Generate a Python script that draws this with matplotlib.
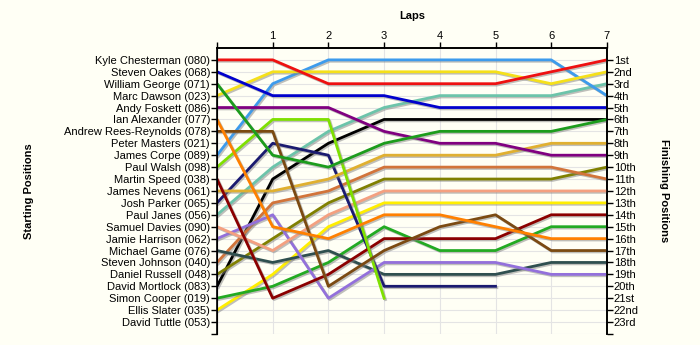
import numpy as np
import matplotlib.pyplot as plt
import matplotlib.patheffects as pe

plt.rcParams['font.family'] = ['Liberation Sans', 'DejaVu Sans']

drivers = ["Kyle Chesterman (080)", "Steven Oakes (068)", "William George (071)",
           "Marc Dawson (023)", "Andy Foskett (086)", "Ian Alexander (077)",
           "Andrew Rees-Reynolds (078)", "Peter Masters (021)", "James Corpe (089)",
           "Paul Walsh (098)", "Martin Speed (038)", "James Nevens (061)",
           "Josh Parker (065)", "Paul Janes (056)", "Samuel Davies (090)",
           "Jamie Harrison (062)", "Michael Game (076)", "Steven Johnson (040)",
           "Daniel Russell (048)", "David Mortlock (083)", "Simon Cooper (019)",
           "Ellis Slater (035)", "David Tuttle (053)"]

finish_labels = ["1st", "2nd", "3rd", "4th", "5th", "6th", "7th", "8th", "9th", "10th",
                 "11th", "12th", "13th", "14th", "15th", "16th", "17th", "18th", "19th",
                 "20th", "21st", "22nd", "23rd"]

laps = [0, 1, 2, 3, 4, 5, 6, 7]
N = None

# position of each driver after every lap (None = retired / no data)
positions = {
    "Kyle Chesterman (080)":      [1, 1, 3, 3, 3, 3, 2, 1],
    "Steven Oakes (068)":         [2, 4, 4, 4, 5, 5, 5, 5],
    "William George (071)":       [3, 9, 10, 8, 7, 7, 7, 6],
    "Marc Dawson (023)":          [4, 2, 2, 2, 2, 2, 3, 2],
    "Andy Foskett (086)":         [5, 5, 5, 7, 8, 8, 9, 9],
    "Ian Alexander (077)":        [6, 15, 16, 14, 14, 15, 16, 16],
    "Andrew Rees-Reynolds (078)": [7, 7, 20, 17, 15, 14, 17, 17],
    "James Corpe (089)":          [9, 3, 1, 1, 1, 1, 1, 4],
    "Paul Walsh (098)":           [10, 6, 6, 21, N, N, N, N],
    "Martin Speed (038)":         [11, 21, 19, 16, 16, 16, 14, 14],
    "James Nevens (061)":         [12, 12, 11, 9, 9, 9, 8, 8],
    "Josh Parker (065)":          [13, 8, 9, 20, 20, 20, N, N],
    "Paul Janes (056)":           [14, 10, 7, 5, 4, 4, 4, 3],
    "Samuel Davies (090)":        [15, 17, 14, 12, 12, 12, 12, 12],
    "Jamie Harrison (062)":       [16, 14, 21, 18, 18, 18, 19, 19],
    "Michael Game (076)":         [17, 18, 17, 19, 19, 19, 18, 18],
    "Steven Johnson (040)":       [18, 13, 12, 10, 10, 10, 10, 11],
    "Daniel Russell (048)":       [19, 16, 13, 11, 11, 11, 11, 10],
    "David Mortlock (083)":       [20, 11, 8, 6, 6, 6, 6, 6],
    "Simon Cooper (019)":         [21, 20, 18, 15, 17, 17, 15, 15],
    "Ellis Slater (035)":         [22, 19, 15, 13, 13, 13, 13, 13],
}

colors = {
    "Kyle Chesterman (080)": "#ee1111",
    "Steven Oakes (068)": "#0000cc",
    "William George (071)": "#1c9c1c",
    "Marc Dawson (023)": "#f5e01a",
    "Andy Foskett (086)": "#800080",
    "Ian Alexander (077)": "#ff8000",
    "Andrew Rees-Reynolds (078)": "#7b4a12",
    "James Corpe (089)": "#3d9bec",
    "Paul Walsh (098)": "#7fe000",
    "Martin Speed (038)": "#8b0000",
    "James Nevens (061)": "#e0b030",
    "Josh Parker (065)": "#1a1a70",
    "Paul Janes (056)": "#6cc4aa",
    "Samuel Davies (090)": "#f4a080",
    "Jamie Harrison (062)": "#9370db",
    "Michael Game (076)": "#2f4f4f",
    "Steven Johnson (040)": "#d2743a",
    "Daniel Russell (048)": "#808000",
    "David Mortlock (083)": "#000000",
    "Simon Cooper (019)": "#22aa22",
    "Ellis Slater (035)": "#ffee00",
}

bg = "#fffff5"
fig = plt.figure(figsize=(7, 3.45), dpi=100, facecolor=bg)
ax = fig.add_axes([0.31, 0.032, 0.557, 0.829], facecolor=bg)

shadow = [pe.SimpleLineShadow(offset=(1, -1), shadow_color="gray", alpha=0.5), pe.Normal()]
for name in reversed(list(positions)):
    y = np.array([np.nan if v is None else v for v in positions[name]], dtype=float)
    ax.plot(laps, y, color=colors[name], lw=2, path_effects=shadow, zorder=3)

ax.set_xlim(0, 7)
ax.set_ylim(24, 0)
ax.xaxis.tick_top()
ax.set_xticks(laps)
ax.set_xticklabels([""] + [str(l) for l in laps[1:]])
ax.set_yticks(range(1, 25))
ax.set_yticklabels(drivers + [""])
ax.tick_params(axis="both", labelsize=8, length=4, width=1, colors="black", pad=1)
ax.grid(True, color="#e4e4e4", lw=0.8, zorder=0)
ax.spines["bottom"].set_visible(False)
for s in ["top", "left", "right"]:
    ax.spines[s].set_linewidth(1.2)
ax.set_xlabel("Laps", fontsize=8, fontweight="bold", labelpad=9)
ax.xaxis.set_label_position("top")
ax.set_ylabel("Starting Positions", fontsize=8, fontweight="bold")
ax.yaxis.set_label_coords(-0.47, 0.5)

ax2 = ax.twinx()
ax2.set_ylim(24, 0)
ax2.set_yticks(range(1, 25))
ax2.set_yticklabels(finish_labels + [""])
ax2.tick_params(axis="y", labelsize=8, length=4, width=1, pad=1)
ax2.spines["bottom"].set_visible(False)
ax2.spines["right"].set_linewidth(1.2)
ax2.spines["top"].set_linewidth(1.2)
ax2.set_ylabel("Finishing Positions", fontsize=8, fontweight="bold", rotation=270)
ax2.yaxis.set_label_coords(1.16, 0.5)

fig.savefig("out.png", dpi=100, facecolor=bg)
